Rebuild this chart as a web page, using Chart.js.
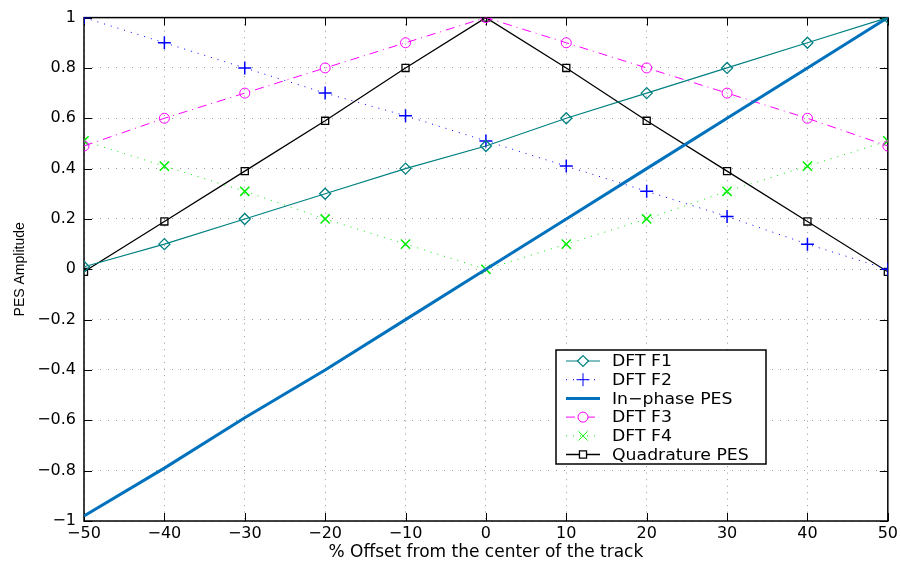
<!DOCTYPE html>
<html>
<head>
<meta charset="utf-8">
<script src="https://cdn.jsdelivr.net/npm/chart.js@4.4.1/dist/chart.umd.min.js"></script>
<style>
  body { margin: 0; background: #fff; }
  #wrap { width: 901px; height: 563px; }
</style>
</head>
<body>
<div id="wrap"><canvas id="pesChart" width="901" height="563"></canvas></div>
<script>
// ---- data ----
const offsets = [-50, -40, -30, -20, -10, 0, 10, 20, 30, 40, 50];
const dftF1 = [0.01, 0.10, 0.20, 0.30, 0.40, 0.49, 0.60, 0.70, 0.80, 0.90, 1.00];
const dftF2 = [1.00, 0.90, 0.80, 0.70, 0.61, 0.51, 0.41, 0.31, 0.21, 0.10, 0.00];
const inPhase = [-0.98, -0.79, -0.59, -0.40, -0.20, 0.00, 0.20, 0.40, 0.60, 0.80, 1.00];
const dftF3 = [0.49, 0.60, 0.70, 0.80, 0.90, 1.00, 0.90, 0.80, 0.70, 0.60, 0.49];
const dftF4 = [0.51, 0.41, 0.31, 0.20, 0.10, 0.00, 0.10, 0.20, 0.31, 0.41, 0.51];
const quadrature = [-0.01, 0.19, 0.39, 0.59, 0.80, 1.00, 0.80, 0.59, 0.39, 0.19, -0.01];

const FONT = '"DejaVu Sans", sans-serif';

function pts(ys) {
  return ys.map((y, i) => ({ x: offsets[i], y: y }));
}

function minus(v) {
  return String(v).replace('-', '\u2212');
}

// draws the box and the inward tick marks (matlab style)
const frameTicks = {
  id: 'frameTicks',
  beforeDatasetsDraw(chart) {
    const { ctx, chartArea: a, scales } = chart;
    ctx.save();
    ctx.strokeStyle = '#000';
    ctx.lineWidth = 1;
    ctx.beginPath();
    scales.x.ticks.forEach((t) => {
      const px = Math.round(scales.x.getPixelForValue(t.value)) + 0.5;
      ctx.moveTo(px, a.bottom); ctx.lineTo(px, a.bottom - 8);
      ctx.moveTo(px, a.top); ctx.lineTo(px, a.top + 8);
    });
    scales.y.ticks.forEach((t) => {
      const py = Math.round(scales.y.getPixelForValue(t.value)) + 0.5;
      ctx.moveTo(a.left, py); ctx.lineTo(a.left + 8, py);
      ctx.moveTo(a.right, py); ctx.lineTo(a.right - 8, py);
    });
    ctx.stroke();
    ctx.lineWidth = 1.5;
    ctx.strokeRect(a.left, a.top, a.right - a.left, a.bottom - a.top);
    ctx.restore();
  }
};

// legend box inside the plot, lower right
const boxLegend = {
  id: 'boxLegend',
  afterDraw(chart) {
    const { ctx } = chart;
    const x0 = 556, y0 = 350, w = 210, h = 114, step = 18.7;
    ctx.save();
    ctx.fillStyle = '#fff';
    ctx.fillRect(x0, y0, w, h);
    ctx.strokeStyle = '#000';
    ctx.lineWidth = 1.5;
    ctx.strokeRect(x0, y0, w, h);
    chart.data.datasets.forEach((ds, i) => {
      const cy = y0 + 11 + i * step;
      ctx.strokeStyle = ds.borderColor;
      ctx.lineWidth = ds.borderWidth;
      ctx.setLineDash(ds.borderDash || []);
      ctx.beginPath();
      ctx.moveTo(566, cy); ctx.lineTo(600, cy);
      ctx.stroke();
      ctx.setLineDash([]);
      if (ds.pointRadius > 0) {
        ctx.fillStyle = '#fff';
        ctx.strokeStyle = ds.pointBorderColor;
        Chart.helpers.drawPoint(ctx, {
          pointStyle: ds.pointStyle,
          radius: ds.pointRadius,
          borderWidth: ds.pointBorderWidth
        }, 583, cy);
      }
      ctx.fillStyle = '#000';
      ctx.font = '16px ' + FONT;
      ctx.textBaseline = 'middle';
      // reference text is drawn a bit wider than normal
      ctx.save();
      ctx.translate(612, cy + 1);
      ctx.scale(1.08, 1);
      ctx.fillText(ds.label, 0, 0);
      ctx.restore();
    });
    ctx.restore();
  }
};

const ctx = document.getElementById('pesChart');
new Chart(ctx, {
  type: 'line',
  data: {
    datasets: [
      {
        label: 'DFT F1', data: pts(dftF1),
        borderColor: '#008080', borderWidth: 1.2,
        pointStyle: 'rectRot', pointRadius: 5.5, pointBorderWidth: 1.3,
        pointBackgroundColor: 'rgba(0,0,0,0)', pointBorderColor: '#008080'
      },
      {
        label: 'DFT F2', data: pts(dftF2),
        borderColor: '#0000ff', borderWidth: 1, borderDash: [1, 6],
        pointStyle: 'cross', pointRadius: 6.5, pointBorderWidth: 1.5,
        pointBackgroundColor: 'rgba(0,0,0,0)', pointBorderColor: '#0000ff'
      },
      {
        label: 'In\u2212phase PES', data: pts(inPhase),
        borderColor: '#0072bd', borderWidth: 3,
        pointRadius: 0, pointStyle: 'line', pointBorderWidth: 0
      },
      {
        label: 'DFT F3', data: pts(dftF3),
        borderColor: '#ff00ff', borderWidth: 1, borderDash: [9, 5, 1, 5],
        pointStyle: 'circle', pointRadius: 5, pointBorderWidth: 1,
        pointBackgroundColor: 'rgba(0,0,0,0)', pointBorderColor: '#ff00ff'
      },
      {
        label: 'DFT F4', data: pts(dftF4),
        borderColor: '#00ee00', borderWidth: 1, borderDash: [1, 6],
        pointStyle: 'crossRot', pointRadius: 6.5, pointBorderWidth: 1.5,
        pointBackgroundColor: 'rgba(0,0,0,0)', pointBorderColor: '#00ee00'
      },
      {
        label: 'Quadrature PES', data: pts(quadrature),
        borderColor: '#000000', borderWidth: 1.3,
        pointStyle: 'rect', pointRadius: 5, pointBorderWidth: 1.3,
        pointBackgroundColor: 'rgba(0,0,0,0)', pointBorderColor: '#000000'
      }
    ]
  },
  options: {
    responsive: false,
    animation: false,
    events: [],
    layout: { padding: { left: 0, right: 12, top: 13, bottom: 0 } },
    scales: {
      x: {
        type: 'linear', min: -50, max: 50,
        afterFit(scale) { scale.height = 42; },
        ticks: {
          stepSize: 10, color: '#000', padding: 3,
          font: { family: FONT, size: 16 },
          callback: (v) => minus(v)
        },
        grid: { color: '#999', borderDash: [1, 5.5], drawTicks: false, lineWidth: 1 },
        border: { display: false, dash: [1, 5.5] },
        title: {
          display: true, text: '% Offset from the center of the track',
          color: '#000', font: { family: FONT, size: 17 }, padding: { top: 0, bottom: 0 }
        }
      },
      y: {
        min: -1, max: 1,
        afterFit(scale) { scale.width = 84; },
        ticks: {
          stepSize: 0.2, color: '#000', padding: 8,
          font: { family: FONT, size: 16 },
          callback: (v) => minus(Math.round(v * 10) / 10)
        },
        grid: { color: '#999', borderDash: [1, 7], drawTicks: false, lineWidth: 1 },
        border: { display: false, dash: [1, 7] },
        title: {
          display: true, text: 'PES Amplitude',
          color: '#000', font: { family: '"Liberation Sans", Arial, sans-serif', size: 14 },
          padding: { top: 12, bottom: 2 }
        }
      }
    },
    plugins: {
      legend: { display: false },
      tooltip: { enabled: false }
    }
  },
  plugins: [frameTicks, boxLegend]
});
</script>
</body>
</html>
